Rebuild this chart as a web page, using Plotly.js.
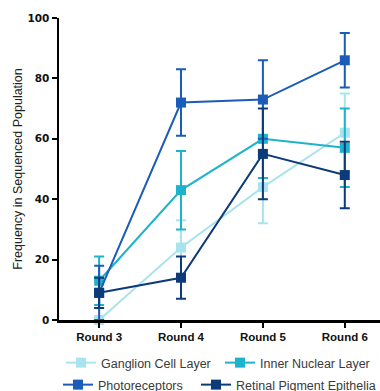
<!DOCTYPE html>
<html>
<head>
<meta charset="utf-8">
<script src="https://cdn.plot.ly/plotly-3.0.1.min.js"></script>
<style>html,body{margin:0;padding:0;background:#fff;}#chart{width:380px;height:391px;}</style>
</head>
<body>
<div id="chart"></div>
<script>
// Data
const rounds = ["Round 3", "Round 4", "Round 5", "Round 6"];
const seriesNames = ["Ganglion Cell Layer", "Inner Nuclear Layer", "Photoreceptors", "Retinal Pigment Epithelia"];
const ganglion = [0, 24, 44, 62];
const ganglionErr = [0, 9, 12, 13];
const innerNuclear = [13, 43, 60, 57];
const innerNuclearErr = [8, 13, 13, 13];
const photoreceptors = [9, 72, 73, 86];
const photoreceptorsErr = [9, 11, 13, 9];
const rpe = [9, 14, 55, 48];
const rpeErr = [5, 7, 15, 11];
const yTicks = [0, 20, 40, 60, 80, 100];

const colors = ["#a9e3ee", "#1db3cc", "#1b5cb8", "#0d3a78"];
const values = [ganglion, innerNuclear, photoreceptors, rpe];
const errs = [ganglionErr, innerNuclearErr, photoreceptorsErr, rpeErr];
const legendIds = ["legend", "legend2", "legend3", "legend4"];

const traces = values.map((v, i) => ({
  type: "scatter",
  mode: "lines+markers",
  name: seriesNames[i],
  x: rounds,
  y: v,
  legend: legendIds[i],
  line: {color: colors[i], width: 2},
  marker: {symbol: "square", size: 10, color: colors[i]},
  error_y: {type: "data", array: errs[i], visible: true, color: colors[i], thickness: 2, width: 5},
  cliponaxis: false
}));

const L = 59, R = 0, T = 18, B = 71, W = 380, H = 391;
const legFont = {family: "Liberation Sans, Arial, sans-serif", size: 12.5, color: "#3a3a3a"};
function leg(xp, yp) {
  return {xref: "container", yref: "container", x: xp / W, y: 1 - yp / H,
    xanchor: "left", yanchor: "middle", orientation: "h",
    bgcolor: "rgba(0,0,0,0)", font: legFont, borderwidth: 0};
}

const layout = {
  width: W, height: H,
  margin: {l: L, r: R, t: T, b: B, autoexpand: false},
  paper_bgcolor: "#fff", plot_bgcolor: "#fff",
  showlegend: true,
  legend: leg(61, 363),
  legend2: leg(220, 363),
  legend3: leg(58, 385),
  legend4: leg(196, 385),
  xaxis: {
    type: "category",
    range: [-0.49, 3.43],
    showline: true, linecolor: "#000", linewidth: 2.5,
    ticks: "outside", ticklen: 5, tickwidth: 2, tickcolor: "#000",
    showgrid: false, zeroline: false,
    tickfont: {family: "Liberation Sans, Arial, sans-serif", size: 11.5, color: "#111", weight: "bold"}
  },
  yaxis: {
    range: [0, 100],
    tickvals: yTicks,
    showline: true, linecolor: "#000", linewidth: 2.5,
    ticks: "outside", ticklen: 5, tickwidth: 2, tickcolor: "#000",
    showgrid: false, zeroline: false,
    tickfont: {family: "DejaVu Sans, sans-serif", size: 10.5, color: "#111", weight: "bold"},
    title: {text: "Frequency in Sequenced Population", standoff: 2,
      font: {family: "Liberation Sans, Arial, sans-serif", size: 12.5, color: "#222"}}
  }
};

Plotly.newPlot("chart", traces, layout, {displayModeBar: false, staticPlot: true});
</script>
</body>
</html>
